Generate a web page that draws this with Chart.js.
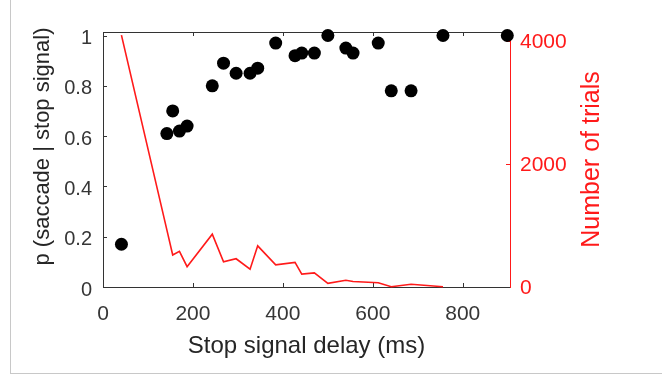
<!DOCTYPE html>
<html>
<head>
<meta charset="utf-8">
<script src="https://cdn.jsdelivr.net/npm/chart.js@4.4.1/dist/chart.umd.min.js"></script>
<style>
  html, body { margin: 0; padding: 0; background: #fff; }
  #wrap { position: relative; width: 662px; height: 375px; }
  #frame {
    position: absolute; left: 10px; top: 0; width: 651px; height: 373px;
    border-left: 1px solid #c8c8c8; border-bottom: 1px solid #c8c8c8;
    pointer-events: none;
  }
</style>
</head>
<body>
<div id="wrap">
  <canvas id="chart" width="662" height="375"></canvas>
  <div id="frame"></div>
</div>
<script>
// stop signal delay of each bin (ms)
const delays = [41, 142, 155, 170, 187, 243, 268, 296, 327, 344, 384, 427, 442, 470, 500, 540, 556, 612, 641, 685, 756, 899];
// probability of a saccade given a stop signal
const pSaccade = [0.17, 0.61, 0.70, 0.62, 0.64, 0.80, 0.89, 0.85, 0.85, 0.87, 0.97, 0.92, 0.93, 0.93, 1.0, 0.95, 0.93, 0.97, 0.78, 0.78, 1.0, 1.0];
// number of trials at each delay (no count for the last bin)
const trialCounts = [4100, 930, 520, 580, 330, 860, 410, 460, 290, 670, 360, 400, 210, 230, 60, 110, 90, 70, 5, 45, 5, null];

const xTicks = [0, 200, 400, 600, 800];
const pTicks = [0, 0.2, 0.4, 0.6, 0.8, 1];
const countTicks = [0, 2000, 4000];

const FONT = "'Liberation Sans', Arial, Helvetica, sans-serif";
const AXIS = '#333333';
const TEXT = '#363636';
const RED = '#ff1a1a';

const fixTicks = values => scale => { scale.ticks = values.map(v => ({ value: v })); };

// draw a rotated (bottom-to-top) axis title
function sideTitle(ctx, text, x, y, size, color) {
  ctx.save();
  ctx.translate(x, y);
  ctx.rotate(-Math.PI / 2);
  ctx.font = size + 'px ' + FONT;
  ctx.fillStyle = color;
  ctx.textAlign = 'center';
  ctx.textBaseline = 'middle';
  ctx.fillText(text, 0, 0);
  ctx.restore();
}

// MATLAB-style box: top edge plus short inward tick marks
const boxTicks = {
  id: 'boxTicks',
  beforeDatasetsDraw(chart) {
    const { ctx, chartArea: a, scales } = chart;
    const len = 4;
    ctx.save();
    ctx.lineWidth = 1;
    ctx.strokeStyle = AXIS;
    ctx.beginPath();
    ctx.moveTo(a.left, a.top + 0.5);
    ctx.lineTo(a.right, a.top + 0.5);
    scales.x.ticks.forEach(t => {
      const px = Math.round(scales.x.getPixelForValue(t.value)) + 0.5;
      if (px <= a.left + 1 || px >= a.right - 1) return;
      ctx.moveTo(px, a.bottom);
      ctx.lineTo(px, a.bottom - len);
      ctx.moveTo(px, a.top);
      ctx.lineTo(px, a.top + len);
    });
    scales.y.ticks.forEach(t => {
      const py = Math.round(scales.y.getPixelForValue(t.value)) + 0.5;
      if (py >= a.bottom - 1) return;
      ctx.moveTo(a.left, py);
      ctx.lineTo(a.left + len, py);
    });
    ctx.stroke();
    ctx.strokeStyle = RED;
    ctx.beginPath();
    scales.y2.ticks.forEach(t => {
      const py = Math.round(scales.y2.getPixelForValue(t.value)) + 0.5;
      if (py >= a.bottom - 1) return;
      ctx.moveTo(a.right, py);
      ctx.lineTo(a.right - len, py);
    });
    ctx.stroke();
    ctx.restore();
  },
  afterDraw(chart) {
    const { ctx, chartArea: a } = chart;
    const mid = (a.top + a.bottom) / 2;
    sideTitle(ctx, 'p (saccade | stop signal)', a.left - 60, mid - 13, 22, '#262626');
    sideTitle(ctx, 'Number of trials', a.right + 82, mid, 25, RED);
  }
};

new Chart(document.getElementById('chart'), {
  type: 'scatter',
  data: {
    datasets: [
      {
        type: 'scatter',
        data: delays.map((d, i) => ({ x: d, y: pSaccade[i] })),
        yAxisID: 'y',
        backgroundColor: '#000',
        pointRadius: 6.5,
        pointBorderWidth: 0,
        clip: false,
        order: 1
      },
      {
        type: 'line',
        data: delays.map((d, i) => ({ x: d, y: trialCounts[i] })),
        yAxisID: 'y2',
        borderColor: RED,
        borderWidth: 1.6,
        pointRadius: 0,
        tension: 0,
        fill: false,
        spanGaps: false,
        clip: false,
        order: 2
      }
    ]
  },
  options: {
    responsive: false,
    animation: false,
    devicePixelRatio: 1,
    layout: { padding: { top: 32, left: 0, right: 0, bottom: 0 } },
    plugins: { legend: { display: false }, tooltip: { enabled: false } },
    scales: {
      x: {
        type: 'linear',
        position: 'bottom',
        min: 0,
        max: 905,
        afterBuildTicks: fixTicks(xTicks),
        afterFit: s => { s.height = 88; },
        grid: { display: false, drawTicks: false },
        border: { color: AXIS, width: 1 },
        ticks: { padding: 15, color: TEXT, font: { family: FONT, size: 21 }, maxRotation: 0, autoSkip: false },
        title: {
          display: true,
          text: 'Stop signal delay (ms)',
          color: '#262626',
          font: { family: FONT, size: 24 },
          padding: { top: 0, bottom: 14 }
        }
      },
      y: {
        type: 'linear',
        position: 'left',
        min: 0,
        max: 1.014,
        afterBuildTicks: fixTicks(pTicks),
        afterFit: s => { s.width = 103; },
        grid: { display: false, drawTicks: false },
        border: { color: AXIS, width: 1 },
        ticks: { padding: 11, labelOffset: 3, color: TEXT, font: { family: FONT, size: 20 }, callback: v => String(v) }
      },
      y2: {
        type: 'linear',
        position: 'right',
        min: 0,
        max: 4150,
        afterBuildTicks: fixTicks(countTicks),
        afterFit: s => { s.width = 152; },
        grid: { display: false, drawTicks: false },
        border: { color: RED, width: 1 },
        ticks: { padding: 10, labelOffset: 1, color: RED, font: { family: FONT, size: 21 }, callback: v => String(v) }
      }
    }
  },
  plugins: [boxTicks]
});
</script>
</body>
</html>
